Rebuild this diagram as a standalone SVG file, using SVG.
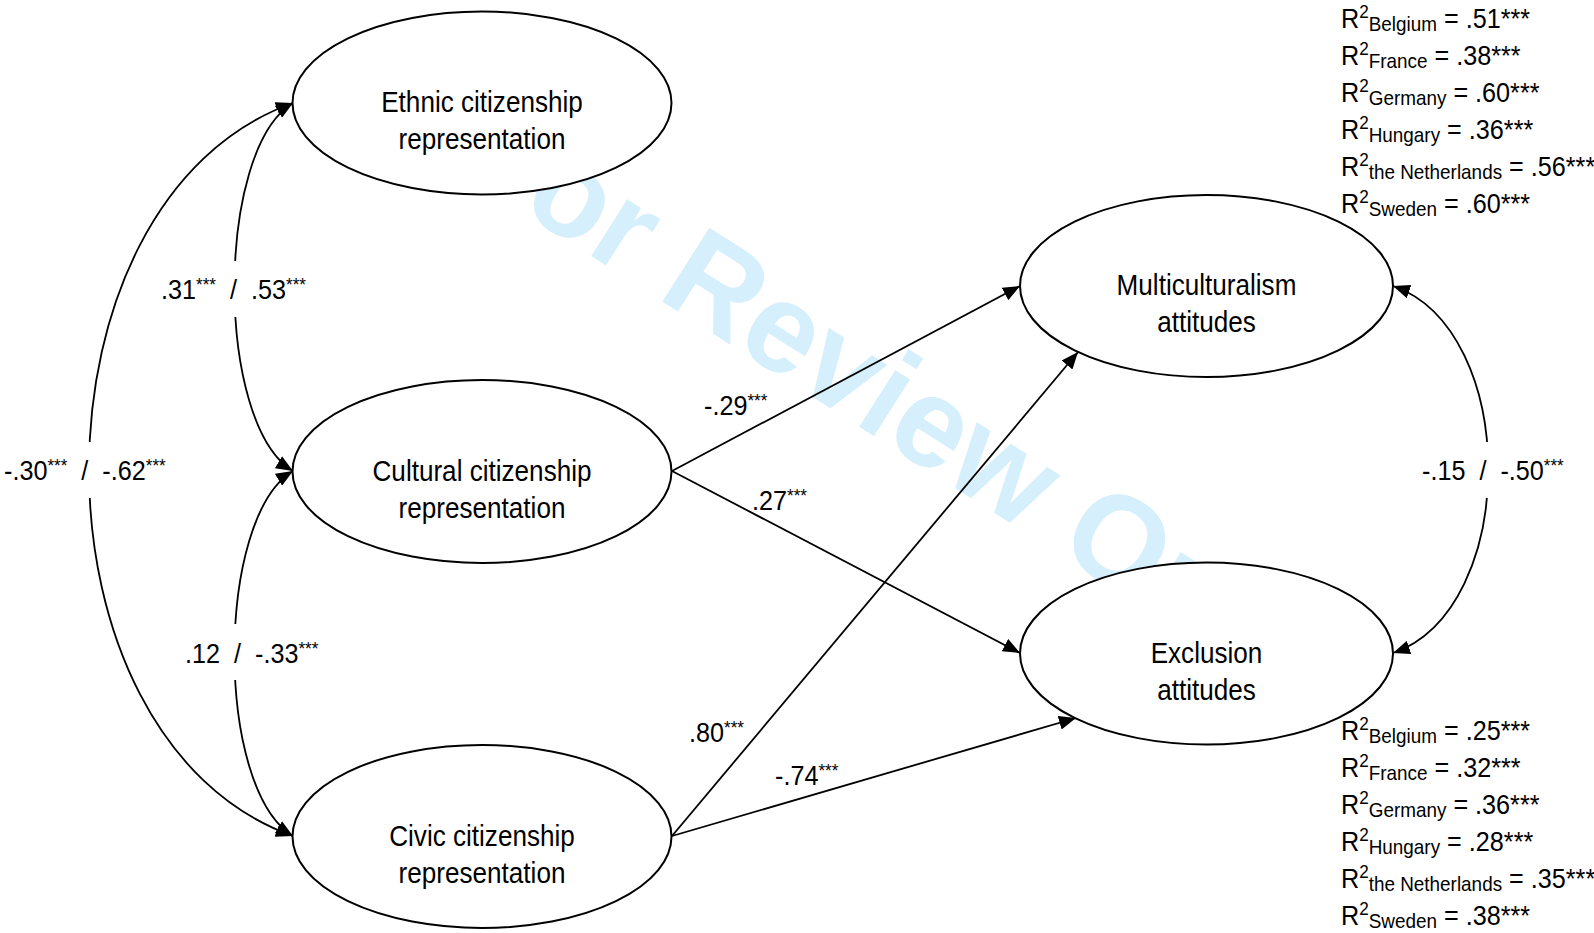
<svg xmlns="http://www.w3.org/2000/svg" width="1594" height="933" viewBox="0 0 1594 933">
<style>
text{font-family:"Liberation Sans",Arial,Helvetica,sans-serif;fill:#000;white-space:pre}
.n{font-size:29px}
.l{font-size:28px}
.a{font-size:19px}
.r{font-size:28px}
.sp{font-size:19px}
.sb{font-size:21px}
.wm{font-family:"Liberation Sans",Arial,sans-serif;font-weight:bold;font-size:127px;fill:#d5effc}
.node ellipse{fill:#fff;stroke:#000;stroke-width:2}
.c{fill:none;stroke:#000;stroke-width:1.8}
.gap{fill:#fff}
</style>
<defs>
<marker id="ah" markerUnits="userSpaceOnUse" markerWidth="18" markerHeight="14" refX="17" refY="7" orient="auto-start-reverse">
<path d="M0,0 L17,7 L0,14 z" fill="#000"/>
</marker>
</defs>
<rect width="1594" height="933" fill="#fff"/>
<text class="wm" transform="translate(453,168) rotate(32.5)">For Review Only</text>

<g id="connectors">
<path class="c" d="M293,103 C215,150 215,424 293,471" marker-start="url(#ah)" marker-end="url(#ah)"/>
<path class="c" d="M293,471 C215,518 215,789 293,836" marker-start="url(#ah)" marker-end="url(#ah)"/>
<path class="c" d="M293,103 C21,200 21,739 293,836" marker-start="url(#ah)" marker-end="url(#ah)"/>
<path class="c" d="M1393,286 C1520,330 1520,609 1393,653" marker-start="url(#ah)" marker-end="url(#ah)"/>
<path class="c" d="M672,471 L1020,286" marker-end="url(#ah)"/>
<path class="c" d="M672,471 L1020,653" marker-end="url(#ah)"/>
<path class="c" d="M672,836 L1078,352" marker-end="url(#ah)"/>
<path class="c" d="M672,836 L1076,718" marker-end="url(#ah)"/>
<rect class="gap" x="224" y="261" width="26" height="56"/>
<rect class="gap" x="224" y="624" width="26" height="56"/>
<rect class="gap" x="76" y="442" width="28" height="56"/>
<rect class="gap" x="1474" y="442" width="28" height="56"/>
</g>

<g id="ethnic" class="node">
<ellipse cx="482" cy="103" rx="189.5" ry="91.5"/>
<text class="n" text-anchor="middle" transform="translate(482,112) scale(0.9,1)">Ethnic citizenship</text>
<text class="n" text-anchor="middle" transform="translate(482,149) scale(0.9,1)">representation</text>
</g>
<g id="cultural" class="node">
<ellipse cx="482" cy="471.5" rx="189.5" ry="91.5"/>
<text class="n" text-anchor="middle" transform="translate(482,480.5) scale(0.9,1)">Cultural citizenship</text>
<text class="n" text-anchor="middle" transform="translate(482,517.5) scale(0.9,1)">representation</text>
</g>
<g id="civic" class="node">
<ellipse cx="482" cy="836.5" rx="189.5" ry="91.5"/>
<text class="n" text-anchor="middle" transform="translate(482,846) scale(0.9,1)">Civic citizenship</text>
<text class="n" text-anchor="middle" transform="translate(482,883) scale(0.9,1)">representation</text>
</g>
<g id="multiculturalism" class="node">
<ellipse cx="1206.5" cy="286" rx="186.5" ry="91"/>
<text class="n" text-anchor="middle" transform="translate(1206.5,295) scale(0.9,1)">Multiculturalism</text>
<text class="n" text-anchor="middle" transform="translate(1206.5,332) scale(0.9,1)">attitudes</text>
</g>
<g id="exclusion" class="node">
<ellipse cx="1206.5" cy="653.5" rx="186.5" ry="91"/>
<text class="n" text-anchor="middle" transform="translate(1206.5,662.5) scale(0.9,1)">Exclusion</text>
<text class="n" text-anchor="middle" transform="translate(1206.5,699.5) scale(0.9,1)">attitudes</text>
</g>

<g id="edge-labels">
<text class="l" transform="translate(161,299) scale(0.9,1)">.31<tspan class="a" dy="-8">***</tspan><tspan dy="8">  /  .53</tspan><tspan class="a" dy="-8">***</tspan></text>
<text class="l" transform="translate(185,663) scale(0.9,1)">.12  /  -.33<tspan class="a" dy="-8">***</tspan></text>
<text class="l" transform="translate(4,480) scale(0.9,1)">-.30<tspan class="a" dy="-8">***</tspan><tspan dy="8">  /  -.62</tspan><tspan class="a" dy="-8">***</tspan></text>
<text class="l" transform="translate(1422,480) scale(0.9,1)">-.15  /  -.50<tspan class="a" dy="-8">***</tspan></text>
<text class="l" transform="translate(704,415) scale(0.9,1)">-.29<tspan class="a" dy="-8">***</tspan></text>
<text class="l" transform="translate(752,510) scale(0.9,1)">.27<tspan class="a" dy="-8">***</tspan></text>
<text class="l" transform="translate(689,742) scale(0.9,1)">.80<tspan class="a" dy="-8">***</tspan></text>
<text class="l" transform="translate(775,785) scale(0.9,1)">-.74<tspan class="a" dy="-8">***</tspan></text>
</g>

<g id="r2-multiculturalism">
<text class="r" transform="translate(1341,28) scale(0.9,1)">R<tspan class="sp" dy="-10">2</tspan><tspan class="sb" dy="13">Belgium</tspan><tspan dy="-3"> = .51***</tspan></text>
<text class="r" transform="translate(1341,65) scale(0.9,1)">R<tspan class="sp" dy="-10">2</tspan><tspan class="sb" dy="13">France</tspan><tspan dy="-3"> = .38***</tspan></text>
<text class="r" transform="translate(1341,102) scale(0.9,1)">R<tspan class="sp" dy="-10">2</tspan><tspan class="sb" dy="13">Germany</tspan><tspan dy="-3"> = .60***</tspan></text>
<text class="r" transform="translate(1341,139) scale(0.9,1)">R<tspan class="sp" dy="-10">2</tspan><tspan class="sb" dy="13">Hungary</tspan><tspan dy="-3"> = .36***</tspan></text>
<text class="r" transform="translate(1341,176) scale(0.9,1)">R<tspan class="sp" dy="-10">2</tspan><tspan class="sb" dy="13">the Netherlands</tspan><tspan dy="-3"> = .56***</tspan></text>
<text class="r" transform="translate(1341,213) scale(0.9,1)">R<tspan class="sp" dy="-10">2</tspan><tspan class="sb" dy="13">Sweden</tspan><tspan dy="-3"> = .60***</tspan></text>
</g>
<g id="r2-exclusion">
<text class="r" transform="translate(1341,740) scale(0.9,1)">R<tspan class="sp" dy="-10">2</tspan><tspan class="sb" dy="13">Belgium</tspan><tspan dy="-3"> = .25***</tspan></text>
<text class="r" transform="translate(1341,777) scale(0.9,1)">R<tspan class="sp" dy="-10">2</tspan><tspan class="sb" dy="13">France</tspan><tspan dy="-3"> = .32***</tspan></text>
<text class="r" transform="translate(1341,814) scale(0.9,1)">R<tspan class="sp" dy="-10">2</tspan><tspan class="sb" dy="13">Germany</tspan><tspan dy="-3"> = .36***</tspan></text>
<text class="r" transform="translate(1341,851) scale(0.9,1)">R<tspan class="sp" dy="-10">2</tspan><tspan class="sb" dy="13">Hungary</tspan><tspan dy="-3"> = .28***</tspan></text>
<text class="r" transform="translate(1341,888) scale(0.9,1)">R<tspan class="sp" dy="-10">2</tspan><tspan class="sb" dy="13">the Netherlands</tspan><tspan dy="-3"> = .35***</tspan></text>
<text class="r" transform="translate(1341,925) scale(0.9,1)">R<tspan class="sp" dy="-10">2</tspan><tspan class="sb" dy="13">Sweden</tspan><tspan dy="-3"> = .38***</tspan></text>
</g>
</svg>
